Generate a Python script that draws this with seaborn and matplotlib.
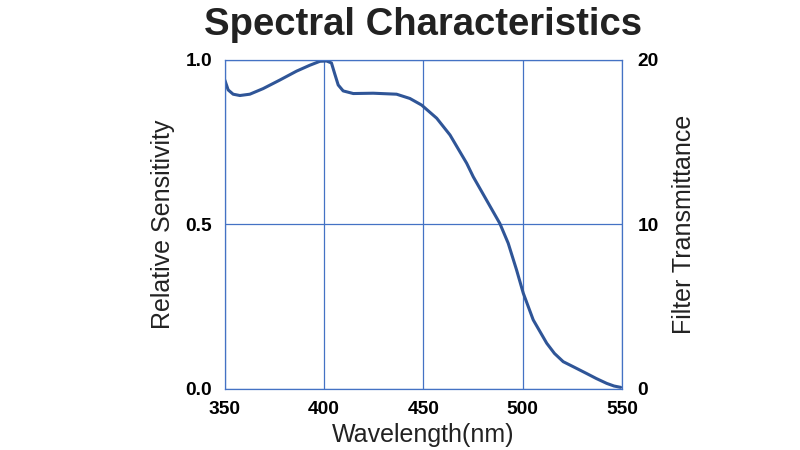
import matplotlib
matplotlib.use("Agg")
import matplotlib.pyplot as plt
import seaborn as sns
import pandas as pd

wavelength = [350.0, 351.7, 354.2, 357.6, 362.6, 369.3, 377.7, 386.1, 392.8, 397.9, 401.2,
              403.7, 405.4, 407.1, 409.6, 414.7, 424.7, 436.5, 443.2, 449.1, 456.7, 463.4,
              471.8, 475.1, 481.8, 488.5, 492.7, 496.9, 500.3, 505.3, 512.1, 516.0, 520.4,
              526.0, 532.2, 537.0, 542.3, 546.0, 549.3]
sensitivity = [0.939, 0.909, 0.896, 0.892, 0.896, 0.913, 0.939, 0.966, 0.984, 0.996, 0.997,
               0.991, 0.957, 0.924, 0.906, 0.898, 0.899, 0.896, 0.883, 0.863, 0.823, 0.772,
               0.686, 0.645, 0.574, 0.503, 0.443, 0.362, 0.291, 0.210, 0.139, 0.108, 0.083,
               0.066, 0.047, 0.032, 0.017, 0.009, 0.005]

x_ticks = [350, 400, 450, 500, 550]
y_ticks = [0.0, 0.5, 1.0]
y_tick_labels = ["0.0", "0.5", "1.0"]
y2_ticks = [0, 10, 20]

sns.set_theme(style="white")
plt.rcParams['font.family'] = ['Liberation Sans', 'DejaVu Sans']

df = pd.DataFrame({"wavelength": wavelength, "sensitivity": sensitivity})

fig = plt.figure(figsize=(8, 4.5), dpi=100)
ax = fig.add_axes([0.281, 0.1356, 0.4965, 0.7311])
grid_c = "#4472C4"
line_c = "#2F5597"

sns.lineplot(data=df, x="wavelength", y="sensitivity", ax=ax, color=line_c, linewidth=2.2)
for ln in ax.get_lines():
    ln.set_solid_joinstyle("round")
    ln.set_solid_capstyle("round")
ax.set_xlim(350, 550)
ax.set_ylim(0, 1.0)
ax.set_xticks(x_ticks)
ax.set_yticks(y_ticks)
ax.set_yticklabels(y_tick_labels)
ax.grid(True, color=grid_c, linewidth=0.9)
for s in ax.spines.values():
    s.set_color(grid_c)
    s.set_linewidth(0.9)
ax.tick_params(axis='y', length=0, labelsize=13.8, pad=9)
ax.tick_params(axis='x', length=0, labelsize=13.8, pad=9)
for lab in ax.get_xticklabels() + ax.get_yticklabels():
    lab.set_fontweight("bold")
    lab.set_color("black")
ax.set_xlabel("Wavelength(nm)", fontsize=18, color="#222222", labelpad=3)
ax.set_ylabel("Relative Sensitivity", fontsize=18, color="#222222", labelpad=8)

ax2 = ax.twinx()
ax2.set_ylim(0, 20)
ax2.set_yticks(y2_ticks)
ax2.tick_params(axis='y', length=0, labelsize=13.8, pad=11)
for lab in ax2.get_yticklabels():
    lab.set_fontweight("bold")
    lab.set_color("black")
for s in ax2.spines.values():
    s.set_visible(False)
ax2.set_ylabel("Filter Transmittance", fontsize=18, color="#222222", labelpad=10)
ax2.grid(False)

fig.suptitle("Spectral Characteristics", x=0.529, y=0.985, fontsize=27.5, fontweight="bold", color="#222222")

fig.savefig("out.png", dpi=100)
